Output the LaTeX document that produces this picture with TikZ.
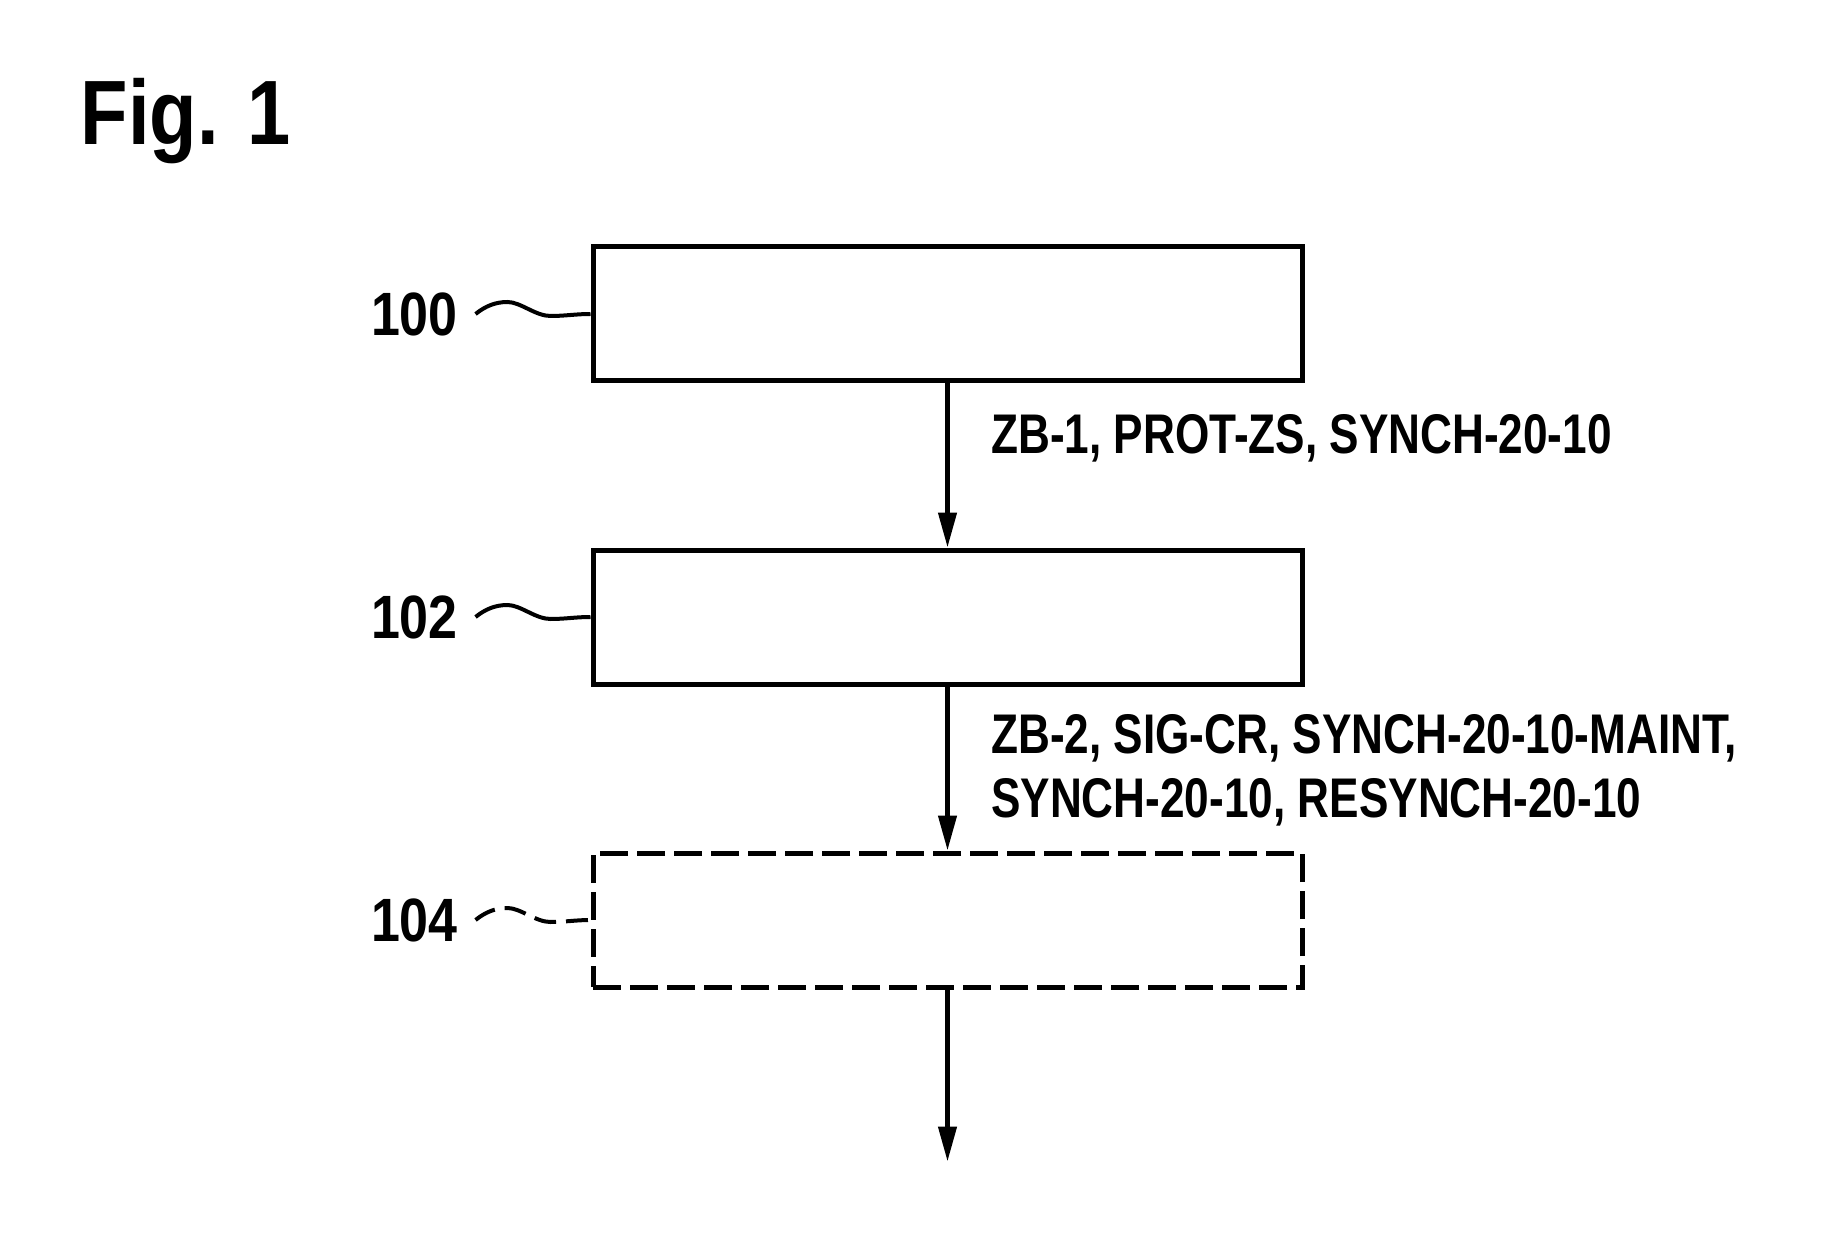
\documentclass[tikz,border=0pt]{standalone}
\usepackage{fontspec}
\setmainfont{Liberation Sans}[FakeStretch=0.85]
\newfontfamily\narrowsans[FakeStretch=0.79]{Liberation Sans}
\usepackage{tikz}
\usetikzlibrary{arrows.meta, positioning}

\begin{document}
\begin{tikzpicture}[
    blk/.style={draw, line width=0.5mm, minimum width=70.9mm, minimum height=13.4mm, inner sep=0pt},
    arr/.style={-{Triangle[length=3.5mm, width=1.8mm]}, line width=0.45mm},
    lbl/.style={font=\narrowsans\bfseries\fontsize{15.9}{18.2}\selectfont, align=left, inner sep=0pt},
    ref/.style={font=\bfseries\fontsize{17.4}{20}\selectfont, anchor=east, inner sep=0pt},
    lead/.style={line width=0.4mm}]
  \useasboundingbox (0,0) rectangle (18.42,-12.39);
  \node[font=\bfseries\fontsize{26}{30}\selectfont, anchor=base west, inner sep=0pt] (fig) at (0.80,-1.45) {Fig. 1};

  % steps
  \node[blk] (s100) at (9.475,-3.14) {};
  \node[blk, below=16.4mm of s100] (s102) {};
  \node[blk, dash pattern=on 2.8mm off 0.9mm, below=16.4mm of s102] (s104) {};
  \coordinate[below=17.2mm of s104] (out);

  \draw[arr] (s100) -- (s102);
  \draw[arr] (s102) -- (s104);
  \draw[arr] (s104) -- (out);

  \node[lbl, anchor=base west] (l1) at ([xshift=4.3mm, yshift=-7.0mm]s100.south) {ZB-1, PROT-ZS, SYNCH-20-10};
  \node[lbl, anchor=base west] (l2) at ([xshift=4.3mm, yshift=-13.1mm]s102.south)
    {ZB-2, SIG-CR, SYNCH-20-10-MAINT,\\ SYNCH-20-10, RESYNCH-20-10};

  % reference signs
  \node[ref] (n100) at ([xshift=-13.2mm]s100.west) {100};
  \node[ref] (n102) at ([xshift=-13.2mm]s102.west) {102};
  \node[ref] (n104) at ([xshift=-13.2mm]s104.west) {104};
  \draw[lead] ([xshift=1.7mm]n100.east) .. controls +(0.1,0.08) and +(-0.12,0) .. ++(0.32,0.12)
    .. controls +(0.13,0) and +(-0.15,0) .. ++(0.43,-0.14) .. controls +(0.15,0) and +(-0.15,0) .. (s100.west);
  \draw[lead] ([xshift=1.7mm]n102.east) .. controls +(0.1,0.08) and +(-0.12,0) .. ++(0.32,0.12)
    .. controls +(0.13,0) and +(-0.15,0) .. ++(0.43,-0.14) .. controls +(0.15,0) and +(-0.15,0) .. (s102.west);
  \draw[lead, dash pattern=on 2.2mm off 1mm] ([xshift=1.7mm]n104.east) .. controls +(0.1,0.08) and +(-0.12,0) .. ++(0.32,0.12)
    .. controls +(0.13,0) and +(-0.15,0) .. ++(0.43,-0.14) .. controls +(0.15,0) and +(-0.15,0) .. (s104.west);
\end{tikzpicture}
\end{document}
